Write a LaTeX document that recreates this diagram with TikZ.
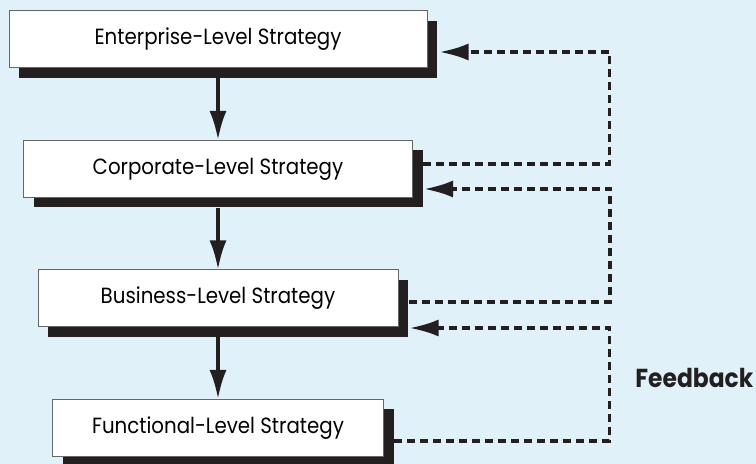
\documentclass[tikz,border=0pt]{standalone}
\usepackage{fontspec}
\setmainfont{Poppins}[FakeStretch=0.9]
\usetikzlibrary{arrows.meta,shadows,calc}
\definecolor{bg}{RGB}{225,241,250}
\definecolor{ink}{RGB}{35,31,32}

\tikzstyle{block}=[draw=gray!80!black, line width=0.5pt, fill=white, minimum height=28.5pt, inner sep=0pt, font=\fontsize{11}{13}\selectfont, drop shadow={shadow xshift=5pt, shadow yshift=-5pt, fill=ink, opacity=1}]
\tikzstyle{flow}=[draw=ink, line width=1.7pt, -{Latex[length=14.5pt,width=8.5pt]}]
\tikzstyle{fback}=[flow, dash pattern=on 4pt off 2.5pt]

\begin{document}
\begin{tikzpicture}[x=0.5pt, y=-0.5pt]
    \fill[bg] (0,0) rectangle (756,464);
    \useasboundingbox (0,0) rectangle (756,464);

    \node[block, minimum width=209pt]   (ent)  at (218, 39.5) {Enterprise-Level Strategy};
    \node[block, minimum width=194.5pt] (corp) at (218, 169)  {Corporate-Level Strategy};
    \node[block, minimum width=180pt]   (bus)  at (218, 298.5) {Business-Level Strategy};
    \node[block, minimum width=165.5pt] (func) at (218, 428)  {Functional-Level Strategy};
    \node[anchor=west, inner sep=0pt, text=ink, font=\bfseries\fontsize{13}{15}\selectfont] (fbk) at (635, 378) {Feedback};

    % top-down
    \draw[flow] ([yshift=-5pt]ent.south)  -- (corp.north);
    \draw[flow] ([yshift=-5pt]corp.south) -- (bus.north);
    \draw[flow] ([yshift=-5pt]bus.south)  -- (func.north);

    % feedback loops
    \draw[fback] ($(corp.east)+(10,-5)$)  -| ($(ent.east)+(182,12.5)$)  -- ($(ent.east)+(12,12.5)$);
    \draw[fback] ($(bus.east)+(10,3.5)$)  -| ($(corp.east)+(197,20)$)   -- ($(corp.east)+(11,20)$);
    \draw[fback] ($(func.east)+(10,13)$)  -| ($(bus.east)+(211,29.5)$)  -- ($(bus.east)+(11,29.5)$);
\end{tikzpicture}
\end{document}
